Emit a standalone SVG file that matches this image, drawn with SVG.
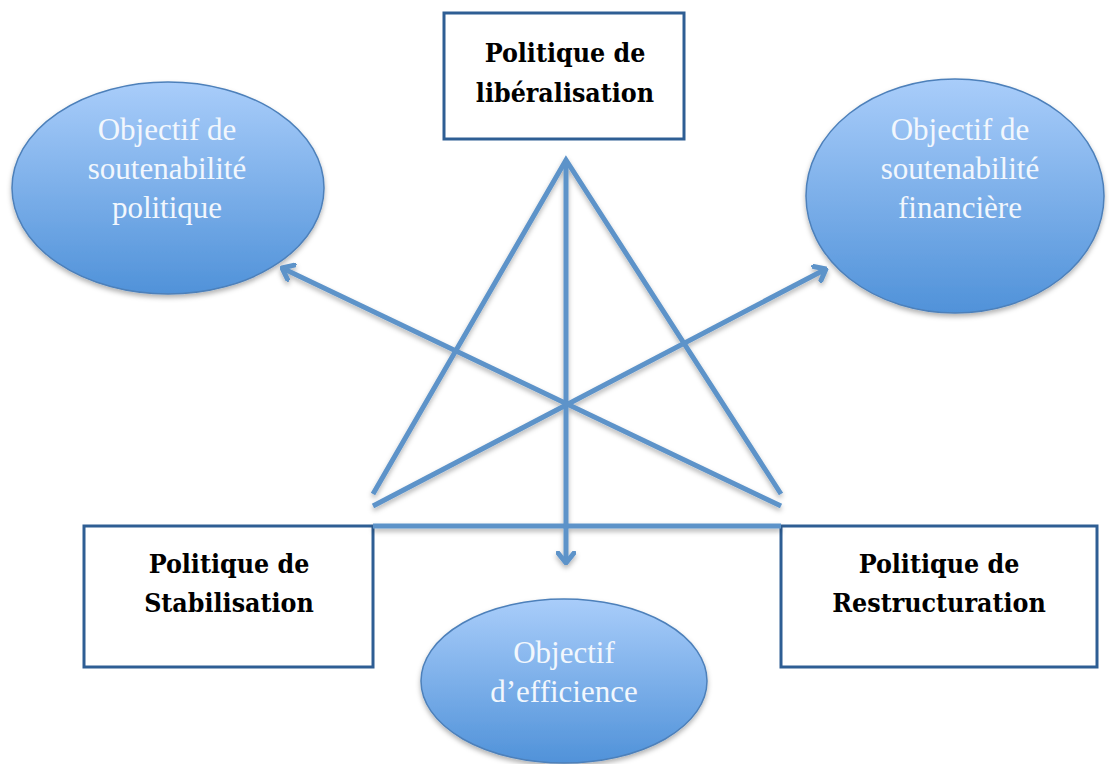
<svg xmlns="http://www.w3.org/2000/svg" width="1109" height="764" viewBox="0 0 1109 764">
<defs>
<linearGradient id="g" x1="0" y1="0" x2="0" y2="1">
<stop offset="0" stop-color="#a9cdfa"/>
<stop offset="1" stop-color="#5092d9"/>
</linearGradient>
<filter id="sh" x="-20%" y="-20%" width="140%" height="140%">
<feDropShadow dx="0" dy="3" stdDeviation="2.5" flood-color="#000" flood-opacity="0.3"/>
</filter>
<marker id="ar" viewBox="-12 -10 14 20" markerWidth="14" markerHeight="20" refX="0" refY="0" orient="auto" markerUnits="userSpaceOnUse">
<path d="M-10,-8 L0,0 L-10,8" fill="none" stroke="#5d93c9" stroke-width="5" stroke-linecap="round" stroke-linejoin="round"/>
</marker>
<style>
.ell{fill:url(#g);stroke:#4d80ba;stroke-width:1.5;filter:url(#sh)}
.box{fill:#fff;stroke:#2e5e94;stroke-width:3}
.bt{font-family:"DejaVu Serif Condensed","DejaVu Serif","Liberation Serif",serif;font-stretch:condensed;font-weight:bold;font-size:26.5px;fill:#000;text-anchor:middle}
.et{font-family:"Liberation Serif",serif;font-size:31px;fill:#f2f7fd;text-anchor:middle}
.ln{stroke:#5d93c9;stroke-width:5;fill:none}
</style>
</defs>
<g id="n-sout-pol"><ellipse class="ell" cx="168" cy="188" rx="156" ry="106"/>
<text class="et" x="167" y="140">Objectif de</text><text class="et" x="167" y="179">soutenabilité</text><text class="et" x="167" y="218">politique</text></g>
<g id="n-sout-fin"><ellipse class="ell" cx="955" cy="196" rx="149" ry="117"/>
<text class="et" x="960" y="140">Objectif de</text><text class="et" x="960" y="179">soutenabilité</text><text class="et" x="960" y="218">financière</text></g>
<g id="n-eff"><ellipse class="ell" cx="564" cy="681" rx="143" ry="82"/>
<text class="et" x="564" y="663">Objectif</text><text class="et" x="564" y="702">d’efficience</text></g>
<g id="n-lib"><rect class="box" x="444" y="13" width="240" height="126"/>
<text class="bt" x="565" y="62">Politique de</text><text class="bt" x="565" y="102">libéralisation</text></g>
<g id="n-stab"><rect class="box" x="84" y="526" width="289" height="141"/>
<text class="bt" x="229" y="573">Politique de</text><text class="bt" x="229" y="612">Stabilisation</text></g>
<g id="n-restr"><rect class="box" x="781" y="526" width="316" height="141"/>
<text class="bt" x="939" y="573">Politique de</text><text class="bt" x="939" y="612">Restructuration</text></g>
<g id="connectors" filter="url(#sh)">
<path class="ln" d="M373,494 L566,160 L781,494"/>
<line class="ln" x1="373" y1="526" x2="781" y2="526"/>
<line class="ln" x1="566" y1="160" x2="566" y2="563" marker-end="url(#ar)"/>
<line class="ln" x1="373" y1="506" x2="826" y2="269" marker-end="url(#ar)"/>
<line class="ln" x1="781" y1="506" x2="282" y2="268" marker-end="url(#ar)"/>
</g>
</svg>
